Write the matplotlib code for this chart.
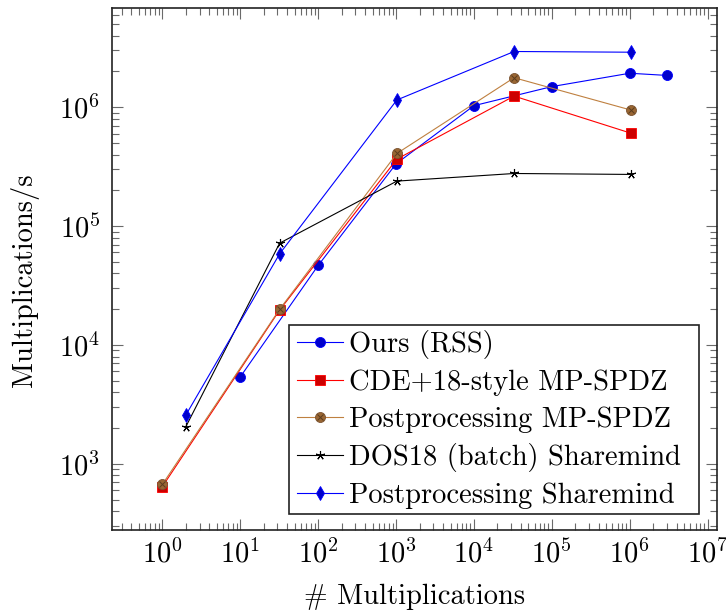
import numpy as np
import matplotlib
matplotlib.use("Agg")
import matplotlib.pyplot as plt
from matplotlib.ticker import (FixedLocator, LogLocator, LogFormatterSciNotation,
                               NullFormatter)
from matplotlib.legend_handler import HandlerTuple
from matplotlib.patches import Rectangle

# ---- data -----------------------------------------------------------------
ours_x = [10, 100, 1000, 1e4, 1e5, 1e6, 3e6]
ours_y = [5400, 46700, 334000, 1.03e6, 1.49e6, 1.93e6, 1.85e6]

cde_x = [1, 32, 1024, 32768, 1048576]
cde_y = [646, 19700, 366000, 1.24e6, 603000]

ppmp_x = [1, 32, 1024, 32768, 1048576]
ppmp_y = [675, 20000, 408000, 1.77e6, 944000]

dos_x = [2, 32, 1024, 32768, 1048576]
dos_y = [2060, 71900, 239000, 277000, 272000]

ppsm_x = [2, 32, 1024, 32768, 1048576]
ppsm_y = [2580, 58500, 1.15e6, 2.94e6, 2.90e6]

labels = [
    "Ours (RSS)",
    "CDE+18-style MP-SPDZ",
    "Postprocessing MP-SPDZ",
    "DOS18 (batch) Sharemind",
    "Postprocessing Sharemind",
]

x_major = [1e0, 1e1, 1e2, 1e3, 1e4, 1e5, 1e6, 1e7]
y_major = [1e3, 1e4, 1e5, 1e6]

# ---- style ----------------------------------------------------------------
plt.rcParams["font.family"] = ["cmr10"]
plt.rcParams["mathtext.fontset"] = "cm"
plt.rcParams["axes.formatter.use_mathtext"] = True
FS = 20.5

W, H = 726, 612
fig = plt.figure(figsize=(W / 100, H / 100), dpi=100)
ax_l, ax_r, ax_t, ax_b = 112, 717.3, 8, 530
ax = fig.add_axes([ax_l / W, 1 - ax_b / H, (ax_r - ax_l) / W, (ax_b - ax_t) / H])

lw = 0.8
h_ours, = ax.plot(ours_x, ours_y, color="#0000ff", lw=lw, marker="o", ms=7.2,
                  mfc="#0000cc", mec="#0000ff", mew=0.6, zorder=2)
h_cde, = ax.plot(cde_x, cde_y, color="#ff0000", lw=lw, marker="s", ms=6.6,
                 mfc="#cc0000", mec="#ff0000", mew=0.6, zorder=2.1)
h_pp, = ax.plot(ppmp_x, ppmp_y, color="#bf8040", lw=lw, marker="o", ms=7.2,
                mfc="#996633", mec="#7a5230", mew=0.6, zorder=2.2)
h_ppx, = ax.plot(ppmp_x, ppmp_y, ls="none", marker="x", ms=5.0,
                 mec="#5a3c1e", mew=0.7, zorder=2.25)
h_dos, = ax.plot(dos_x, dos_y, color="black", lw=lw, marker=(5, 2, 0), ms=6.5,
                 mec="black", mew=0.8, zorder=2.3)
h_sm, = ax.plot(ppsm_x, ppsm_y, color="#0000ff", lw=lw, marker="d", ms=7.4,
                mfc="#0000cc", mec="#0000ff", mew=0.6, zorder=2.4)

# ---- scales, limits (10 % enlargement in log space) -----------------------
ax.set_xscale("log")
ax.set_yscale("log")
all_x = np.log10(np.concatenate([ours_x, cde_x, ppmp_x, dos_x, ppsm_x]))
all_y = np.log10(np.concatenate([ours_y, cde_y, ppmp_y, dos_y, ppsm_y]))
ex = 0.1 * (all_x.max() - all_x.min())
ey = 0.1 * (all_y.max() - all_y.min())
ax.set_xlim(10 ** (all_x.min() - ex), 10 ** (all_x.max() + ex))
ax.set_ylim(10 ** (all_y.min() - ey), 10 ** (all_y.max() + ey))

for axis, majors in ((ax.xaxis, x_major), (ax.yaxis, y_major)):
    axis.set_major_locator(FixedLocator(majors))
    axis.set_minor_locator(LogLocator(base=10, subs=np.arange(2, 10), numticks=200))
    axis.set_major_formatter(LogFormatterSciNotation())
    axis.set_minor_formatter(NullFormatter())

tick_c = "#6a6a6a"
ax.tick_params(which="both", direction="in", top=True, right=True,
               color=tick_c, width=0.8, labelsize=FS)
ax.tick_params(which="major", length=7.8)
ax.tick_params(which="minor", length=5.2)
ax.tick_params(axis="x", which="major", pad=7.0)
ax.tick_params(axis="y", which="major", pad=8.4)
for s in ax.spines.values():
    s.set_linewidth(1.2)
    s.set_color("#222222")

ax.set_xlabel("# Multiplications", fontsize=FS)
ax.set_ylabel("Multiplications/s", fontsize=FS)
ax.xaxis.set_label_coords(0.5, -0.103)
ax.yaxis.set_label_coords(-0.121, 0.479)

# ---- legend -----------------------------------------------------------------
lg_l, lg_t, lg_r, lg_b = 289, 324.7, 699, 513.6
frame = Rectangle((lg_l / W, 1 - lg_b / H), (lg_r - lg_l) / W, (lg_b - lg_t) / H,
                  transform=fig.transFigure, facecolor="white", edgecolor="#222222",
                  lw=1.2, zorder=4.5, clip_on=False)
ax.add_artist(frame)
leg = ax.legend([h_ours, h_cde, (h_pp, h_ppx), h_dos, h_sm], labels,
                handler_map={tuple: HandlerTuple(ndivide=1, pad=0)},
                loc="center left", bbox_to_anchor=(297 / W, 1 - 419.4 / H),
                bbox_transform=fig.transFigure, frameon=False, fontsize=FS,
                borderpad=0, borderaxespad=0, handlelength=1.6,
                handletextpad=0.22, labelspacing=0.36, numpoints=1)
leg.set_zorder(5)

fig.savefig("out.png", dpi=100)
